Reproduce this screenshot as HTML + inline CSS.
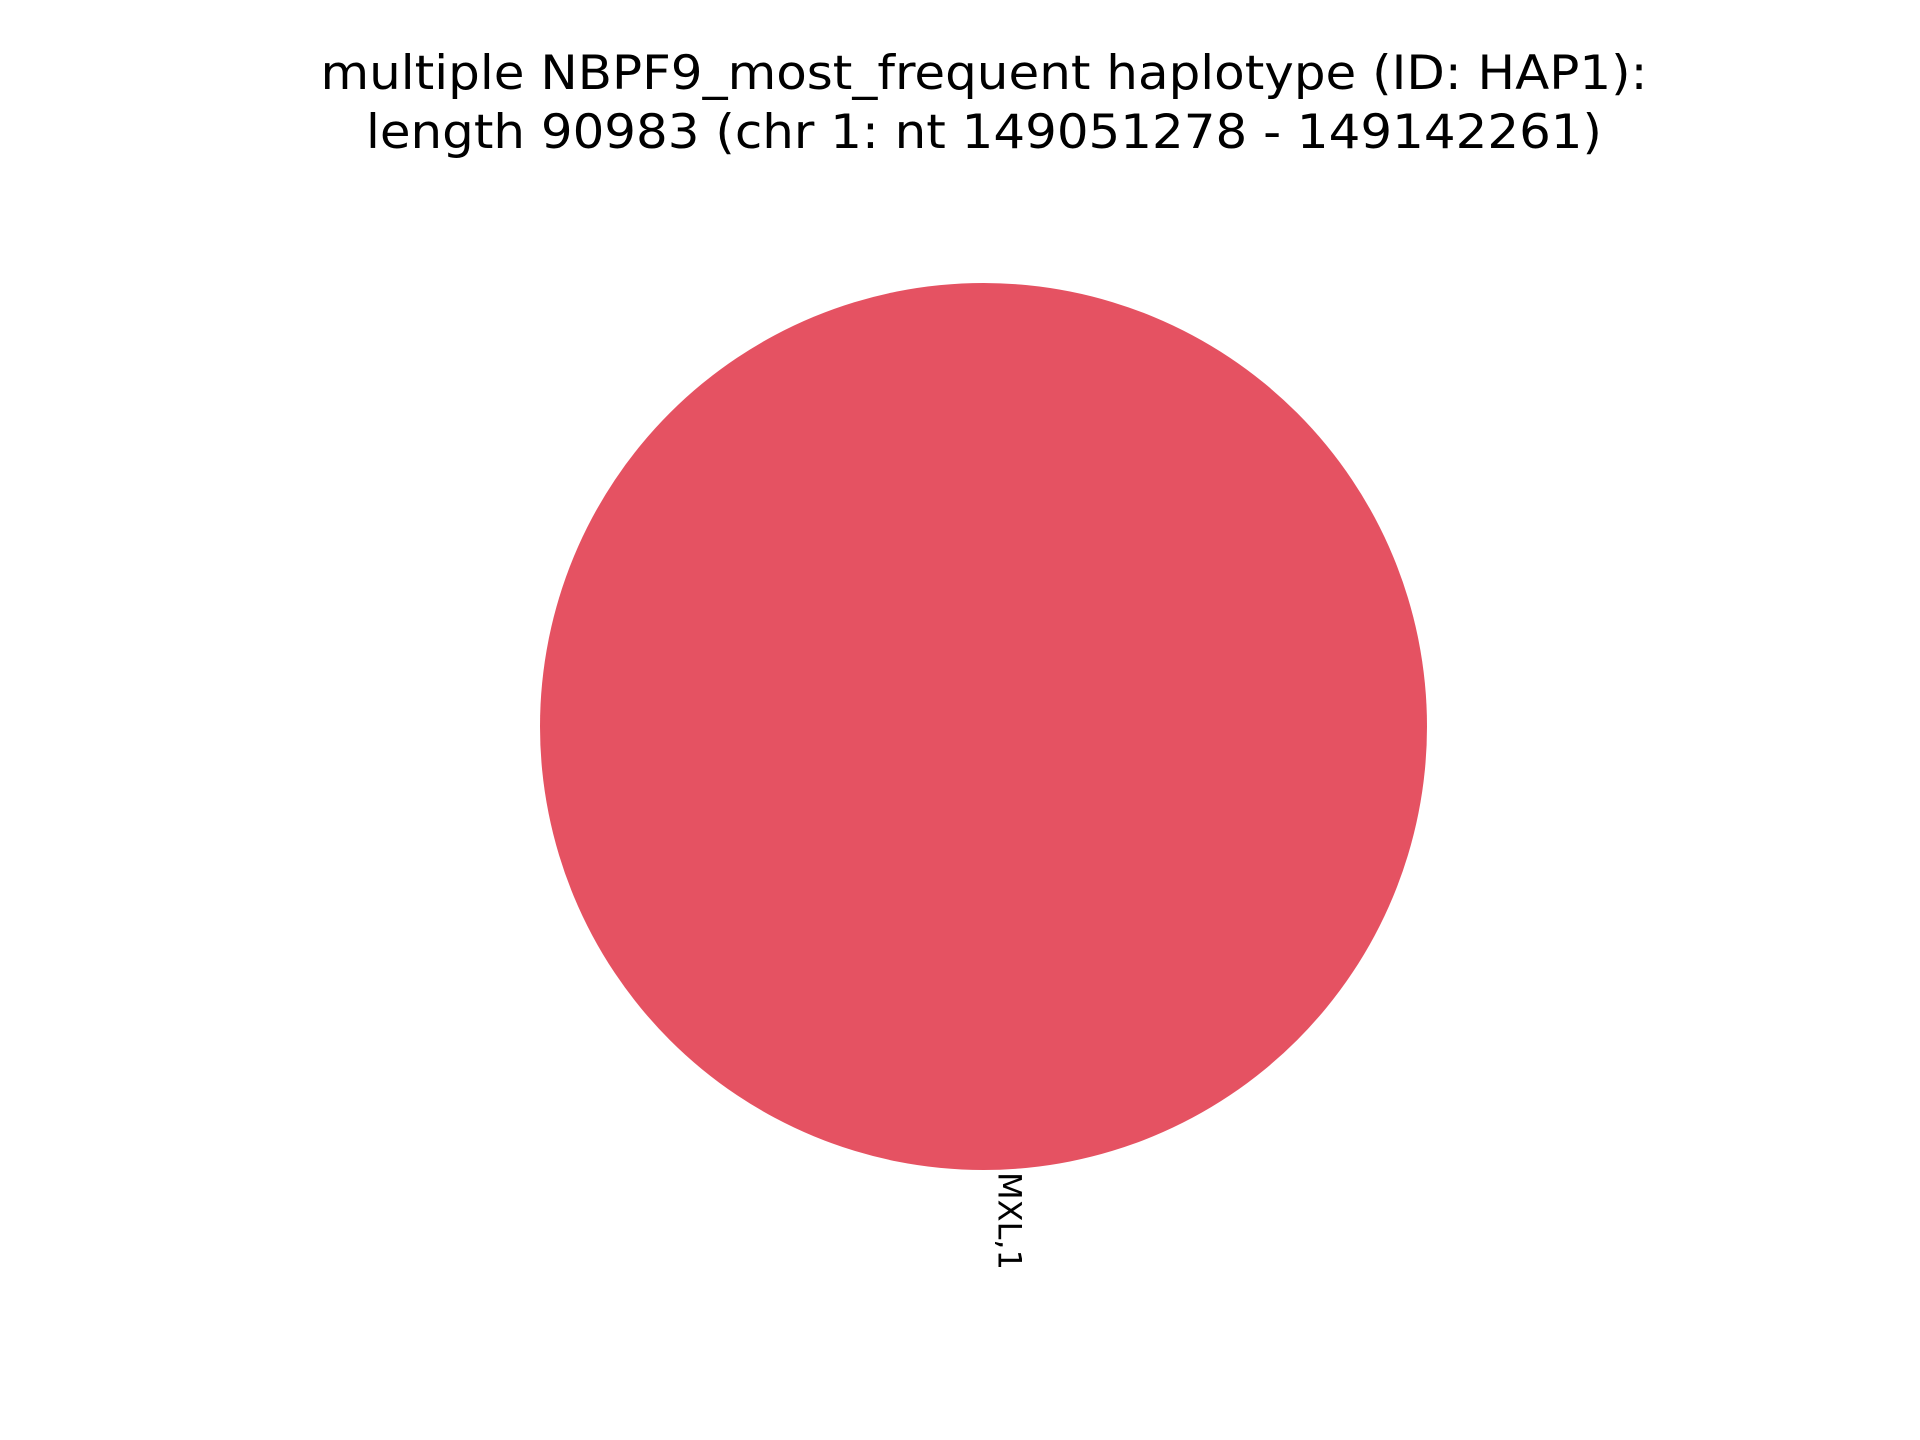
<!DOCTYPE html>
<html><head><meta charset="utf-8"><style>html,body{margin:0;padding:0;background:#fff}svg{display:block}</style></head>
<body>
<svg width="1920" height="1440" viewBox="0 0 1920 1440" font-family="'DejaVu Sans','Liberation Sans',sans-serif">
<rect width="1920" height="1440" fill="#fff"/>
<text x="984" y="89" font-size="47" text-anchor="middle" textLength="1327" lengthAdjust="spacingAndGlyphs">multiple NBPF9_most_frequent haplotype (ID: HAP1):</text>
<text x="984" y="148" font-size="47" text-anchor="middle" textLength="1236" lengthAdjust="spacingAndGlyphs">length 90983 (chr 1: nt 149051278 - 149142261)</text>
<g id="pie"></g>
</svg>
<script>
const categories = ["MXL,1"];
const values = [1];
const colors = ["#e55262"];
const cx = 983.5, cy = 726.5, r = 443.5;
const g = document.getElementById('pie');
const ns = 'http://www.w3.org/2000/svg';
const total = values.reduce((a,b)=>a+b,0);
let start = 0;
values.forEach((v,i)=>{
  const frac = v/total;
  let el;
  if (frac >= 0.9999) {
    el = document.createElementNS(ns,'circle');
    el.setAttribute('cx',cx); el.setAttribute('cy',cy); el.setAttribute('r',r);
  } else {
    const a0 = start*2*Math.PI, a1=(start+frac)*2*Math.PI;
    const x0=cx+r*Math.cos(a0), y0=cy-r*Math.sin(a0), x1=cx+r*Math.cos(a1), y1=cy-r*Math.sin(a1);
    el = document.createElementNS(ns,'path');
    el.setAttribute('d',`M${cx},${cy}L${x0},${y0}A${r},${r} 0 ${frac>0.5?1:0} 0 ${x1},${y1}Z`);
  }
  el.setAttribute('fill',colors[i%colors.length]);
  
  
  g.appendChild(el);
  const mid = (frac>=0.9999) ? -Math.PI/2 : (start+frac/2)*2*Math.PI;
  const lx = cx + (r+2)*Math.cos(mid) + 26, ly = cy - (r+2)*Math.sin(mid);
  const t = document.createElementNS(ns,'text');
  t.setAttribute('x', lx); t.setAttribute('y', ly);
  t.setAttribute('font-size','32');
  t.setAttribute('textLength','98');
  t.setAttribute('lengthAdjust','spacingAndGlyphs');
  t.setAttribute('transform',`rotate(90 ${lx} ${ly})`);
  t.setAttribute('dominant-baseline','central');
  t.textContent = categories[i];
  
  
  g.appendChild(t);
  start += frac;
});
</script>
</body></html>
